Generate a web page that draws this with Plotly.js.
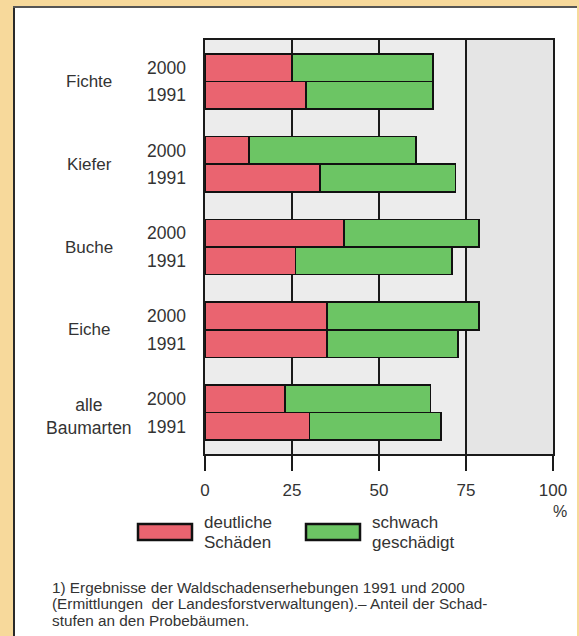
<!DOCTYPE html>
<html>
<head>
<meta charset="utf-8">
<script src="https://cdn.plot.ly/plotly-3.0.1.min.js"></script>
<style>
  html, body { margin: 0; padding: 0; }
  body { width: 579px; height: 636px; background: #f7d99b; position: relative; overflow: hidden; }
  #chart { position: absolute; left: 14px; top: 7px; width: 565px; height: 629px; background: #fff; }
  #edgeL { position: absolute; left: 13px; top: 6px; width: 2px; height: 630px; background: #2a2a2a; }
  #edgeT { position: absolute; left: 13px; top: 6px; width: 564px; height: 1.5px; background: #555; }
  #edgeR { position: absolute; left: 577px; top: 6px; width: 2px; height: 630px; background: #f7d99b; }
</style>
</head>
<body>
<div id="chart"></div>
<div id="edgeL"></div>
<div id="edgeT"></div>
<div id="edgeR"></div>
<script>
// ---- data ----
const categories = ['Fichte', 'Kiefer', 'Buche', 'Eiche', 'alle<br>Baumarten'];
const years = ['2000', '1991'];
// "deutliche Schäden" (%)
const deutlich2000 = [25, 12.7, 40, 35, 23];
const deutlich1991 = [29, 33, 26, 35, 30];
// "schwach geschädigt" (%)
const schwach2000 = [40.5, 48, 38.8, 43.8, 41.8];
const schwach1991 = [36.5, 39, 45, 37.7, 37.8];
const xTicks = [0, 25, 50, 75, 100];
const xTickText = ['0', '25', '50', '75', '100'];
const legendLabels = [['deutliche', 'Schäden'], ['schwach', 'geschädigt']];
const footnote = [
  '1) Ergebnisse der Waldschadenserhebungen 1991 und 2000',
  '(Ermittlungen  der Landesforstverwaltungen).– Anteil der Schad-',
  'stufen an den Probebäumen.'
];

const RED = '#ea6470';
const GREEN = '#6cc564';
const TXT = '#333333';
const FONT = 'Liberation Sans, Arial, sans-serif';

// positions: each category takes 3 slots (2000, 1991, gap)
const pos = [], yearText = [], red = [], green = [];
categories.forEach((c, i) => {
  pos.push(3 * i + 1); yearText.push(years[0]); red.push(deutlich2000[i]); green.push(schwach2000[i]);
  pos.push(3 * i + 2); yearText.push(years[1]); red.push(deutlich1991[i]); green.push(schwach1991[i]);
});

const barLine = { color: '#111', width: 1.6 };
const traces = [
  { type: 'bar', orientation: 'h', y: pos, x: red, width: 1, name: 'deutliche Schäden',
    marker: { color: RED, line: barLine }, hoverinfo: 'x' },
  { type: 'bar', orientation: 'h', y: pos, x: green, width: 1, name: 'schwach geschädigt',
    marker: { color: GREEN, line: barLine }, hoverinfo: 'x' }
];

// helpers for paper coords (plot area: l=191, t=33, w=348, h=414 in div coordinates)
const L = 191, T = 33, W = 348, H = 414;
const px = (x) => (x - 14 - L) / W;       // page x -> paper x
const py = (y) => (T + H - (y - 7)) / H;  // page y -> paper y

const annotations = [];
categories.forEach((c, i) => {
  const twoLine = c.indexOf('<br>') >= 0;
  annotations.push({ xref: 'paper', yref: 'y', x: px(89), y: 3 * i + 1.5, text: c,
    showarrow: false, xanchor: 'center', yanchor: 'middle', yshift: twoLine ? -4 : 0,
    font: { family: FONT, size: twoLine ? 17.5 : 17, color: TXT } });
});
annotations.push({ xref: 'paper', yref: 'paper', x: px(560), y: py(511), text: '%', showarrow: false,
  xanchor: 'center', yanchor: 'middle', font: { family: FONT, size: 16, color: TXT } });
// legend texts
const legX = [202, 370];
const legColors = [RED, GREEN];
const legSw = [[138, 192], [306, 360]];
const shapes = [
  { type: 'rect', layer: 'below', xref: 'x', yref: 'paper', x0: 75, x1: 100, y0: 0, y1: 1,
    fillcolor: '#e5e5e5', line: { width: 0 } }
];
legendLabels.forEach((lines, k) => {
  annotations.push({ xref: 'paper', yref: 'paper', x: px(legX[k]), y: py(522), text: lines[0], showarrow: false,
    xanchor: 'left', yanchor: 'middle', font: { family: FONT, size: 17, color: TXT } });
  annotations.push({ xref: 'paper', yref: 'paper', x: px(legX[k]), y: py(542), text: lines[1], showarrow: false,
    xanchor: 'left', yanchor: 'middle', font: { family: FONT, size: 17, color: TXT } });
  shapes.push({ type: 'rect', xref: 'paper', yref: 'paper', x0: px(legSw[k][0]), x1: px(legSw[k][1]),
    y0: py(540), y1: py(524), fillcolor: legColors[k], line: { color: '#111', width: 2.5 } });
});
const footY = [587, 603, 620];
footnote.forEach((t, k) => {
  annotations.push({ xref: 'paper', yref: 'paper', x: px(50), y: py(footY[k]), text: t, showarrow: false,
    xanchor: 'left', yanchor: 'middle', font: { family: FONT, size: 15.3, color: TXT } });
});

const layout = {
  width: 565, height: 629,
  margin: { l: L, r: 565 - L - W, t: T, b: 629 - T - H, pad: 0 },
  paper_bgcolor: '#ffffff',
  plot_bgcolor: '#ececec',
  barmode: 'stack',
  showlegend: false,
  bargap: 0,
  font: { family: FONT, color: TXT, size: 17 },
  xaxis: {
    range: [0, 100], tickvals: xTicks, ticktext: xTickText,
    showgrid: true, gridcolor: '#1a1a1a', gridwidth: 1.6,
    showline: true, linecolor: '#1a1a1a', linewidth: 1.6, mirror: true,
    ticks: 'outside', ticklen: 15, tickwidth: 1.6, tickcolor: '#1a1a1a',
    ticklabelstandoff: 5,
    zeroline: false, fixedrange: true,
    tickfont: { family: FONT, size: 17, color: TXT }
  },
  yaxis: {
    range: [15, 0], tickvals: pos, ticktext: yearText,
    showgrid: false, showline: true, linecolor: '#1a1a1a', linewidth: 1.6, mirror: true,
    ticks: '', ticklabelstandoff: 14, zeroline: false, fixedrange: true,
    tickfont: { family: FONT, size: 17.5, color: TXT }
  },
  shapes: shapes,
  annotations: annotations
};

Plotly.newPlot('chart', traces, layout, { staticPlot: true, displayModeBar: false });
</script>
</body>
</html>
